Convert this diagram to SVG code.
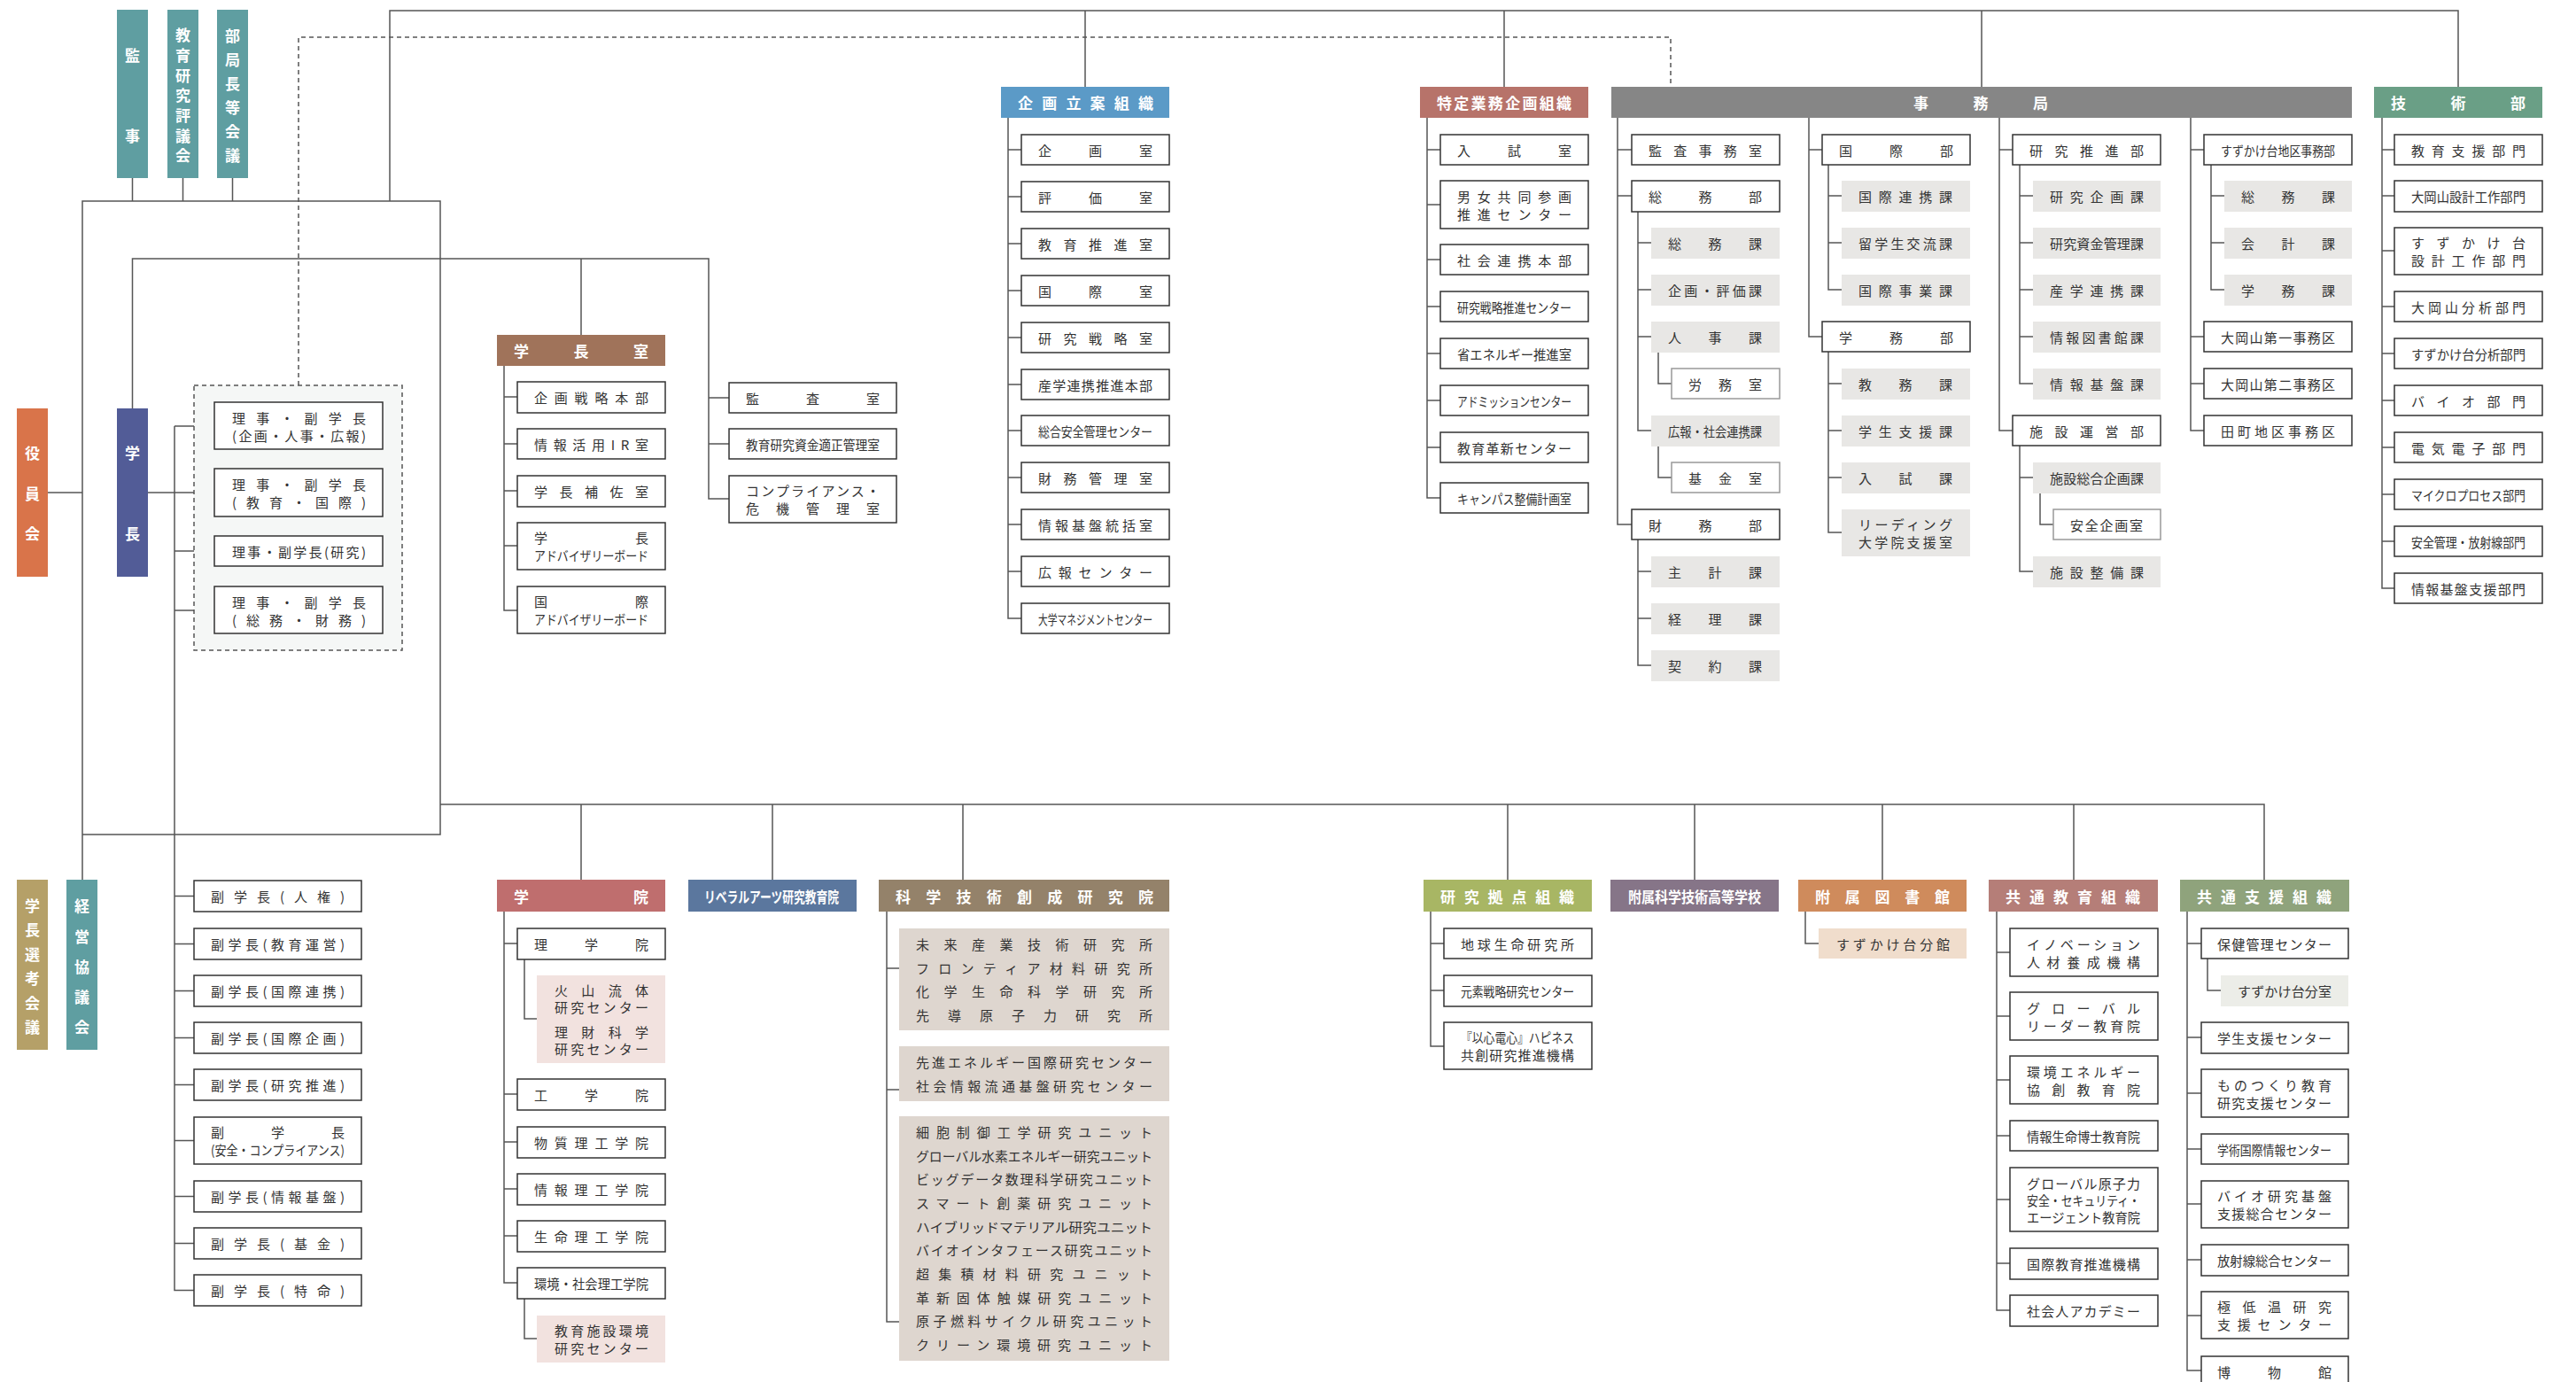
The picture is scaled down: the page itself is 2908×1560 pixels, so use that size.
<svg xmlns="http://www.w3.org/2000/svg" width="2908" height="1560" viewBox="0 0 2908 1560">
<style>
.t{font-family:"Noto Sans CJK JP","Noto Sans CJK SC",sans-serif;font-size:15px;fill:#333;dominant-baseline:central}
.h{font-family:"Noto Sans CJK JP","Noto Sans CJK SC",sans-serif;font-size:17px;font-weight:bold;fill:#fff;dominant-baseline:central}
.v{font-family:"Noto Sans CJK JP","Noto Sans CJK SC",sans-serif;font-size:17px;font-weight:bold;fill:#fff;dominant-baseline:central;text-anchor:middle}
.b{fill:#fff;stroke:#333;stroke-width:1.5}
.l{fill:#fff;stroke:#999;stroke-width:1.5}
.g{fill:#e8e7e5}
.p{fill:#f2e2df}
.k{fill:#ded6cf}
.ln{fill:none;stroke:#555;stroke-width:1.5}
.dl{fill:none;stroke:#555;stroke-width:1.5;stroke-dasharray:5 4}
</style>
<rect width="2908" height="1560" fill="#fff"/>

<g id="connectors">
<path class="ln" d="M440,227 V12 H2775 V98 M1225,12 V98 M1698,12 V98 M2237,12 V98 M149.5,201 V227 M206.5,201 V227 M262.5,201 V227 M93,993 V227 H497 V942 H93 M54,556 H93 M497,908 H2556 V993 M656,908 V993 M872,908 V993 M1087,908 V993 M1702,908 V993 M1913,908 V993 M2125,908 V993 M2341,908 V993"/>
<path class="ln" d="M149.5,461 V292 H800 V563 H823 M656,292 V378 M800,449 H823 M800,501 H823 M167,556 H242 M197,481 V1456.5 H219 M197,481 H242 M197,622 H242 M197,689 H242 M197,1011.5 H219 M197,1065.5 H219 M197,1118.5 H219 M197,1171.5 H219 M197,1224.5 H219 M197,1287.5 H219 M197,1350.5 H219 M197,1403.5 H219"/>
<path class="ln" d="M569,413 V689 H584 M569,448 H584 M569,501 H584 M569,554 H584 M569,616 H584"/>
<path class="ln" d="M1138,133 V698 H1153 M1138,169 H1153 M1138,222 H1153 M1138,275 H1153 M1138,328 H1153 M1138,381 H1153 M1138,434 H1153 M1138,486 H1153 M1138,539 H1153 M1138,592 H1153 M1138,645 H1153"/>
<path class="ln" d="M1611,133 V562 H1626 M1611,169 H1626 M1611,231 H1626 M1611,293 H1626 M1611,346 H1626 M1611,399 H1626 M1611,452 H1626 M1611,505 H1626"/>
<path class="ln" d="M1826,133 V592 H1842 M1826,169 H1842 M1826,221 H1842 M1849,239 V486 H1864 M1849,274 H1864 M1849,327 H1864 M1849,380 H1864 M1872,398 V433 H1887 M1872,504 V539 H1887 M1849,609 V751 H1864 M1849,645 H1864 M1849,698 H1864"/>
<path class="ln" d="M2042,133 V380 H2057 M2042,169 H2057 M2064,186 V327 H2079 M2064,221 H2079 M2064,274 H2079 M2064,397 V601 H2079 M2064,433 H2079 M2064,486 H2079 M2064,539 H2079"/>
<path class="ln" d="M2257,133 V486 H2272 M2257,169 H2272 M2280,186 V433 H2295 M2280,221 H2295 M2280,274 H2295 M2280,327 H2295 M2280,380 H2295 M2280,503 V645 H2295 M2280,539 H2295 M2303,557 V592 H2318"/>
<path class="ln" d="M2473,133 V486 H2488 M2473,169 H2488 M2473,380 H2488 M2473,433 H2488 M2496,186 V327 H2511 M2496,221 H2511 M2496,274 H2511"/>
<path class="ln" d="M2689,133 V664 H2703 M2689,169 H2703 M2689,221 H2703 M2689,283 H2703 M2689,346 H2703 M2689,399 H2703 M2689,452 H2703 M2689,505 H2703 M2689,558 H2703 M2689,611 H2703"/>
<path class="ln" d="M569,1029 V1448 H584 M569,1065 H584 M569,1235 H584 M569,1289 H584 M569,1342 H584 M569,1395 H584 M592,1083 V1150 H606 M592,1466 V1511 H606"/>
<path class="ln" d="M1001,1029 V1492 H1015 M1001,1093 H1015 M1001,1230 H1015"/>
<path class="ln" d="M1615,1029 V1181 H1630 M1615,1065 H1630 M1615,1118 H1630 M2038,1029 V1065 H2053"/>
<path class="ln" d="M2254,1029 V1479 H2269 M2254,1075 H2269 M2254,1147 H2269 M2254,1219 H2269 M2254,1282 H2269 M2254,1354 H2269 M2254,1426 H2269"/>
<path class="ln" d="M2469,1029 V1547 H2485 M2469,1065 H2485 M2469,1171 H2485 M2469,1234 H2485 M2469,1297 H2485 M2469,1359 H2485 M2469,1422 H2485 M2469,1485 H2485 M2492,1082 V1118 H2507"/>
<path class="dl" d="M337,435 V42 H1886 V98"/>
</g>

<g id="kanji"><rect x="132" y="11" width="35" height="190" fill="#5f9ea1"/><text class="v" x="149.5" y="61">監</text><text class="v" x="149.5" y="152">事</text></g>
<g id="hyogikai"><rect x="189" y="11" width="35" height="190" fill="#5f9ea1"/><text class="v" x="206.5" y="38">教</text><text class="v" x="206.5" y="61">育</text><text class="v" x="206.5" y="84">研</text><text class="v" x="206.5" y="106">究</text><text class="v" x="206.5" y="129">評</text><text class="v" x="206.5" y="152">議</text><text class="v" x="206.5" y="174">会</text></g>
<g id="bukyokucho"><rect x="245" y="11" width="35" height="190" fill="#5f9ea1"/><text class="v" x="262.5" y="39">部</text><text class="v" x="262.5" y="66">局</text><text class="v" x="262.5" y="93">長</text><text class="v" x="262.5" y="120">等</text><text class="v" x="262.5" y="147">会</text><text class="v" x="262.5" y="174">議</text></g>
<g id="yakuinkai"><rect x="19" y="461" width="35" height="190" fill="#d9744a"/><text class="v" x="36.5" y="510">役</text><text class="v" x="36.5" y="556">員</text><text class="v" x="36.5" y="601">会</text></g>
<g id="gakucho"><rect x="132" y="461" width="35" height="190" fill="#525c97"/><text class="v" x="149.5" y="510">学</text><text class="v" x="149.5" y="601">長</text></g>
<g id="senko"><rect x="19" y="993" width="35" height="192" fill="#b5a068"/><text class="v" x="36.5" y="1021">学</text><text class="v" x="36.5" y="1048">長</text><text class="v" x="36.5" y="1076">選</text><text class="v" x="36.5" y="1103">考</text><text class="v" x="36.5" y="1131">会</text><text class="v" x="36.5" y="1158">議</text></g>
<g id="keiei"><rect x="75" y="993" width="35" height="192" fill="#5f9ea1"/><text class="v" x="92.5" y="1021">経</text><text class="v" x="92.5" y="1056">営</text><text class="v" x="92.5" y="1090">協</text><text class="v" x="92.5" y="1124">議</text><text class="v" x="92.5" y="1158">会</text></g>

<g id="riji">
<rect x="219" y="435" width="235" height="299" fill="#f5f7f6" stroke="#555" stroke-width="1.5" stroke-dasharray="5 4"/>
<rect class="b" x="242" y="454" width="190" height="53"/><text class="t" x="262" y="471" textLength="151" lengthAdjust="spacing">理事・副学長</text><text class="t" x="262" y="491" textLength="151" lengthAdjust="spacing">(企画・人事・広報)</text>
<rect class="b" x="242" y="529" width="190" height="54"/><text class="t" x="262" y="546" textLength="151" lengthAdjust="spacing">理事・副学長</text><text class="t" x="262" y="566" textLength="151" lengthAdjust="spacing">(教育・国際)</text>
<rect class="b" x="242" y="605" width="190" height="34"/><text class="t" x="262" y="622" textLength="151" lengthAdjust="spacing">理事・副学長(研究)</text>
<rect class="b" x="242" y="662" width="190" height="53"/><text class="t" x="262" y="679" textLength="151" lengthAdjust="spacing">理事・副学長</text><text class="t" x="262" y="699" textLength="151" lengthAdjust="spacing">(総務・財務)</text>
</g>

<g id="fukugakucho">
<rect class="b" x="219" y="994" width="189" height="35"/><text class="t" x="238" y="1011.5" textLength="151" lengthAdjust="spacing">副学長(人権)</text>
<rect class="b" x="219" y="1048" width="189" height="35"/><text class="t" x="238" y="1065.5" textLength="151" lengthAdjust="spacing">副学長(教育運営)</text>
<rect class="b" x="219" y="1101" width="189" height="35"/><text class="t" x="238" y="1118.5" textLength="151" lengthAdjust="spacing">副学長(国際連携)</text>
<rect class="b" x="219" y="1154" width="189" height="35"/><text class="t" x="238" y="1171.5" textLength="151" lengthAdjust="spacing">副学長(国際企画)</text>
<rect class="b" x="219" y="1207" width="189" height="35"/><text class="t" x="238" y="1224.5" textLength="151" lengthAdjust="spacing">副学長(研究推進)</text>
<rect class="b" x="219" y="1261" width="189" height="53"/><text class="t" x="238" y="1277.5" textLength="151" lengthAdjust="spacing">副学長</text><text class="t" x="238" y="1297.5" textLength="151" lengthAdjust="spacingAndGlyphs">(安全・コンプライアンス)</text>
<rect class="b" x="219" y="1333" width="189" height="35"/><text class="t" x="238" y="1350.5" textLength="151" lengthAdjust="spacing">副学長(情報基盤)</text>
<rect class="b" x="219" y="1386" width="189" height="35"/><text class="t" x="238" y="1403.5" textLength="151" lengthAdjust="spacing">副学長(基金)</text>
<rect class="b" x="219" y="1439" width="189" height="35"/><text class="t" x="238" y="1456.5" textLength="151" lengthAdjust="spacing">副学長(特命)</text>
</g>

<g id="kansa">
<rect class="b" x="823" y="432" width="189" height="34"/><text class="t" x="842" y="449" textLength="151" lengthAdjust="spacing">監査室</text>
<rect class="b" x="823" y="484" width="189" height="34"/><text class="t" x="842" y="501" textLength="151" lengthAdjust="spacingAndGlyphs">教育研究資金適正管理室</text>
<rect class="b" x="823" y="537" width="189" height="53"/><text class="t" x="842" y="553.5" textLength="151" lengthAdjust="spacing">コンプライアンス・</text><text class="t" x="842" y="573.5" textLength="151" lengthAdjust="spacing">危機管理室</text>
</g>

<g id="gakuchoshitsu">
<rect x="561" y="378" width="190" height="35" fill="#a0735a"/><text class="h" x="580" y="395.5" textLength="152" lengthAdjust="spacing">学長室</text>
<rect class="b" x="584" y="431" width="167" height="35"/><text class="t" x="603" y="448.5" textLength="129" lengthAdjust="spacing">企画戦略本部</text>
<rect class="b" x="584" y="484" width="167" height="34"/><text class="t" x="603" y="501" textLength="129" lengthAdjust="spacing">情報活用IR室</text>
<rect class="b" x="584" y="537" width="167" height="35"/><text class="t" x="603" y="554.5" textLength="129" lengthAdjust="spacing">学長補佐室</text>
<rect class="b" x="584" y="590" width="167" height="53"/><text class="t" x="603" y="606.5" textLength="129" lengthAdjust="spacing">学長</text><text class="t" x="603" y="626.5" textLength="129" lengthAdjust="spacingAndGlyphs">アドバイザリーボード</text>
<rect class="b" x="584" y="662" width="167" height="53"/><text class="t" x="603" y="678.5" textLength="129" lengthAdjust="spacing">国際</text><text class="t" x="603" y="698.5" textLength="129" lengthAdjust="spacingAndGlyphs">アドバイザリーボード</text>
</g>

<g id="kikaku">
<rect x="1130" y="98" width="190" height="35" fill="#5b9ac7"/><text class="h" x="1149" y="115.5" textLength="153" lengthAdjust="spacing">企画立案組織</text>
<rect class="b" x="1153" y="152" width="167" height="34"/><text class="t" x="1172" y="169" textLength="129" lengthAdjust="spacing">企画室</text>
<rect class="b" x="1153" y="205" width="167" height="34"/><text class="t" x="1172" y="222" textLength="129" lengthAdjust="spacing">評価室</text>
<rect class="b" x="1153" y="258" width="167" height="34"/><text class="t" x="1172" y="275" textLength="129" lengthAdjust="spacing">教育推進室</text>
<rect class="b" x="1153" y="311" width="167" height="34"/><text class="t" x="1172" y="328" textLength="129" lengthAdjust="spacing">国際室</text>
<rect class="b" x="1153" y="364" width="167" height="34"/><text class="t" x="1172" y="381" textLength="129" lengthAdjust="spacing">研究戦略室</text>
<rect class="b" x="1153" y="417" width="167" height="34"/><text class="t" x="1172" y="434" textLength="129" lengthAdjust="spacing">産学連携推進本部</text>
<rect class="b" x="1153" y="469" width="167" height="34"/><text class="t" x="1172" y="486" textLength="129" lengthAdjust="spacingAndGlyphs">総合安全管理センター</text>
<rect class="b" x="1153" y="522" width="167" height="34"/><text class="t" x="1172" y="539" textLength="129" lengthAdjust="spacing">財務管理室</text>
<rect class="b" x="1153" y="575" width="167" height="34"/><text class="t" x="1172" y="592" textLength="129" lengthAdjust="spacing">情報基盤統括室</text>
<rect class="b" x="1153" y="628" width="167" height="34"/><text class="t" x="1172" y="645" textLength="129" lengthAdjust="spacing">広報センター</text>
<rect class="b" x="1153" y="681" width="167" height="34"/><text class="t" x="1172" y="698" textLength="129" lengthAdjust="spacingAndGlyphs">大学マネジメントセンター</text>
</g>

<g id="tokutei">
<rect x="1603" y="98" width="190" height="35" fill="#b7736a"/><text class="h" x="1622" y="115.5" textLength="152" lengthAdjust="spacing">特定業務企画組織</text>
<rect class="b" x="1626" y="152" width="167" height="34"/><text class="t" x="1645" y="169" textLength="129" lengthAdjust="spacing">入試室</text>
<rect class="b" x="1626" y="204" width="167" height="54"/><text class="t" x="1645" y="221" textLength="129" lengthAdjust="spacing">男女共同参画</text><text class="t" x="1645" y="241" textLength="129" lengthAdjust="spacing">推進センター</text>
<rect class="b" x="1626" y="276" width="167" height="34"/><text class="t" x="1645" y="293" textLength="129" lengthAdjust="spacing">社会連携本部</text>
<rect class="b" x="1626" y="329" width="167" height="34"/><text class="t" x="1645" y="346" textLength="129" lengthAdjust="spacingAndGlyphs">研究戦略推進センター</text>
<rect class="b" x="1626" y="382" width="167" height="34"/><text class="t" x="1645" y="399" textLength="129" lengthAdjust="spacingAndGlyphs">省エネルギー推進室</text>
<rect class="b" x="1626" y="435" width="167" height="34"/><text class="t" x="1645" y="452" textLength="129" lengthAdjust="spacingAndGlyphs">アドミッションセンター</text>
<rect class="b" x="1626" y="488" width="167" height="34"/><text class="t" x="1645" y="505" textLength="129" lengthAdjust="spacing">教育革新センター</text>
<rect class="b" x="1626" y="545" width="167" height="34"/><text class="t" x="1645" y="562" textLength="129" lengthAdjust="spacingAndGlyphs">キャンパス整備計画室</text>
</g>

<g id="jimukyoku">
<rect x="1819" y="98" width="836" height="35" fill="#868686"/><text class="h" x="2160" y="115.5" textLength="152" lengthAdjust="spacing">事務局</text>
<rect class="b" x="1842" y="152" width="167" height="34"/><text class="t" x="1861" y="169" textLength="128" lengthAdjust="spacing">監査事務室</text>
<rect class="b" x="1842" y="204" width="167" height="35"/><text class="t" x="1861" y="221.5" textLength="128" lengthAdjust="spacing">総務部</text>
<rect class="g" x="1864" y="257" width="145" height="35"/><text class="t" x="1883" y="274.5" textLength="106" lengthAdjust="spacing">総務課</text>
<rect class="g" x="1864" y="310" width="145" height="35"/><text class="t" x="1883" y="327.5" textLength="106" lengthAdjust="spacing">企画・評価課</text>
<rect class="g" x="1864" y="363" width="145" height="35"/><text class="t" x="1883" y="380.5" textLength="106" lengthAdjust="spacing">人事課</text>
<rect class="l" x="1887" y="416" width="122" height="34"/><text class="t" x="1906" y="433" textLength="83" lengthAdjust="spacing">労務室</text>
<rect class="g" x="1864" y="469" width="145" height="35"/><text class="t" x="1883" y="486.5" textLength="106" lengthAdjust="spacingAndGlyphs">広報・社会連携課</text>
<rect class="l" x="1887" y="522" width="122" height="34"/><text class="t" x="1906" y="539" textLength="83" lengthAdjust="spacing">基金室</text>
<rect class="b" x="1842" y="575" width="167" height="34"/><text class="t" x="1861" y="592" textLength="128" lengthAdjust="spacing">財務部</text>
<rect class="g" x="1864" y="628" width="145" height="35"/><text class="t" x="1883" y="645.5" textLength="106" lengthAdjust="spacing">主計課</text>
<rect class="g" x="1864" y="681" width="145" height="35"/><text class="t" x="1883" y="698.5" textLength="106" lengthAdjust="spacing">経理課</text>
<rect class="g" x="1864" y="734" width="145" height="35"/><text class="t" x="1883" y="751.5" textLength="106" lengthAdjust="spacing">契約課</text>

<rect class="b" x="2057" y="152" width="167" height="34"/><text class="t" x="2076" y="169" textLength="129" lengthAdjust="spacing">国際部</text>
<rect class="g" x="2079" y="204" width="145" height="35"/><text class="t" x="2098" y="221.5" textLength="106" lengthAdjust="spacing">国際連携課</text>
<rect class="g" x="2079" y="257" width="145" height="35"/><text class="t" x="2098" y="274.5" textLength="106" lengthAdjust="spacing">留学生交流課</text>
<rect class="g" x="2079" y="310" width="145" height="35"/><text class="t" x="2098" y="327.5" textLength="106" lengthAdjust="spacing">国際事業課</text>
<rect class="b" x="2057" y="363" width="167" height="34"/><text class="t" x="2076" y="380" textLength="129" lengthAdjust="spacing">学務部</text>
<rect class="g" x="2079" y="416" width="145" height="35"/><text class="t" x="2098" y="433.5" textLength="106" lengthAdjust="spacing">教務課</text>
<rect class="g" x="2079" y="469" width="145" height="35"/><text class="t" x="2098" y="486.5" textLength="106" lengthAdjust="spacing">学生支援課</text>
<rect class="g" x="2079" y="522" width="145" height="35"/><text class="t" x="2098" y="539.5" textLength="106" lengthAdjust="spacing">入試課</text>
<rect class="g" x="2079" y="575" width="145" height="53"/><text class="t" x="2098" y="591.5" textLength="106" lengthAdjust="spacing">リーディング</text><text class="t" x="2098" y="611.5" textLength="106" lengthAdjust="spacing">大学院支援室</text>

<rect class="b" x="2272" y="152" width="167" height="34"/><text class="t" x="2291" y="169" textLength="129" lengthAdjust="spacing">研究推進部</text>
<rect class="g" x="2295" y="204" width="144" height="35"/><text class="t" x="2314" y="221.5" textLength="106" lengthAdjust="spacing">研究企画課</text>
<rect class="g" x="2295" y="257" width="144" height="35"/><text class="t" x="2314" y="274.5" textLength="106" lengthAdjust="spacing">研究資金管理課</text>
<rect class="g" x="2295" y="310" width="144" height="35"/><text class="t" x="2314" y="327.5" textLength="106" lengthAdjust="spacing">産学連携課</text>
<rect class="g" x="2295" y="363" width="144" height="35"/><text class="t" x="2314" y="380.5" textLength="106" lengthAdjust="spacing">情報図書館課</text>
<rect class="g" x="2295" y="416" width="144" height="35"/><text class="t" x="2314" y="433.5" textLength="106" lengthAdjust="spacing">情報基盤課</text>
<rect class="b" x="2272" y="469" width="167" height="34"/><text class="t" x="2291" y="486" textLength="129" lengthAdjust="spacing">施設運営部</text>
<rect class="g" x="2295" y="522" width="144" height="35"/><text class="t" x="2314" y="539.5" textLength="106" lengthAdjust="spacing">施設総合企画課</text>
<rect class="l" x="2318" y="575" width="121" height="34"/><text class="t" x="2337" y="592" textLength="82" lengthAdjust="spacing">安全企画室</text>
<rect class="g" x="2295" y="628" width="144" height="35"/><text class="t" x="2314" y="645.5" textLength="106" lengthAdjust="spacing">施設整備課</text>

<rect class="b" x="2488" y="152" width="167" height="34"/><text class="t" x="2507" y="169" textLength="129" lengthAdjust="spacingAndGlyphs">すずかけ台地区事務部</text>
<rect class="g" x="2511" y="204" width="144" height="35"/><text class="t" x="2530" y="221.5" textLength="106" lengthAdjust="spacing">総務課</text>
<rect class="g" x="2511" y="257" width="144" height="35"/><text class="t" x="2530" y="274.5" textLength="106" lengthAdjust="spacing">会計課</text>
<rect class="g" x="2511" y="310" width="144" height="35"/><text class="t" x="2530" y="327.5" textLength="106" lengthAdjust="spacing">学務課</text>
<rect class="b" x="2488" y="363" width="167" height="34"/><text class="t" x="2507" y="380" textLength="129" lengthAdjust="spacing">大岡山第一事務区</text>
<rect class="b" x="2488" y="416" width="167" height="34"/><text class="t" x="2507" y="433" textLength="129" lengthAdjust="spacing">大岡山第二事務区</text>
<rect class="b" x="2488" y="469" width="167" height="34"/><text class="t" x="2507" y="486" textLength="129" lengthAdjust="spacing">田町地区事務区</text>
</g>

<g id="gijutsubu">
<rect x="2680" y="98" width="190" height="35" fill="#6a9f86"/><text class="h" x="2699" y="115.5" textLength="152" lengthAdjust="spacing">技術部</text>
<rect class="b" x="2703" y="152" width="167" height="34"/><text class="t" x="2722" y="169" textLength="129" lengthAdjust="spacing">教育支援部門</text>
<rect class="b" x="2703" y="204" width="167" height="35"/><text class="t" x="2722" y="221.5" textLength="129" lengthAdjust="spacingAndGlyphs">大岡山設計工作部門</text>
<rect class="b" x="2703" y="257" width="167" height="53"/><text class="t" x="2722" y="273.5" textLength="129" lengthAdjust="spacing">すずかけ台</text><text class="t" x="2722" y="293.5" textLength="129" lengthAdjust="spacing">設計工作部門</text>
<rect class="b" x="2703" y="329" width="167" height="34"/><text class="t" x="2722" y="346" textLength="129" lengthAdjust="spacing">大岡山分析部門</text>
<rect class="b" x="2703" y="382" width="167" height="34"/><text class="t" x="2722" y="399" textLength="129" lengthAdjust="spacingAndGlyphs">すずかけ台分析部門</text>
<rect class="b" x="2703" y="435" width="167" height="34"/><text class="t" x="2722" y="452" textLength="129" lengthAdjust="spacing">バイオ部門</text>
<rect class="b" x="2703" y="488" width="167" height="34"/><text class="t" x="2722" y="505" textLength="129" lengthAdjust="spacing">電気電子部門</text>
<rect class="b" x="2703" y="541" width="167" height="34"/><text class="t" x="2722" y="558" textLength="129" lengthAdjust="spacingAndGlyphs">マイクロプロセス部門</text>
<rect class="b" x="2703" y="594" width="167" height="34"/><text class="t" x="2722" y="611" textLength="129" lengthAdjust="spacingAndGlyphs">安全管理・放射線部門</text>
<rect class="b" x="2703" y="647" width="167" height="34"/><text class="t" x="2722" y="664" textLength="129" lengthAdjust="spacing">情報基盤支援部門</text>
</g>

<g id="gakuin">
<rect x="561" y="993" width="190" height="36" fill="#bf6e6e"/><text class="h" x="580" y="1011" textLength="152" lengthAdjust="spacing">学院</text>
<rect class="b" x="584" y="1048" width="167" height="35"/><text class="t" x="603" y="1065.5" textLength="129" lengthAdjust="spacing">理学院</text>
<rect class="p" x="606" y="1101" width="145" height="99"/><text class="t" x="626" y="1117" textLength="106" lengthAdjust="spacing">火山流体</text><text class="t" x="626" y="1136" textLength="106" lengthAdjust="spacing">研究センター</text><text class="t" x="626" y="1164" textLength="106" lengthAdjust="spacing">理財科学</text><text class="t" x="626" y="1183" textLength="106" lengthAdjust="spacing">研究センター</text>
<rect class="b" x="584" y="1218" width="167" height="35"/><text class="t" x="603" y="1235.5" textLength="129" lengthAdjust="spacing">工学院</text>
<rect class="b" x="584" y="1272" width="167" height="35"/><text class="t" x="603" y="1289.5" textLength="129" lengthAdjust="spacing">物質理工学院</text>
<rect class="b" x="584" y="1325" width="167" height="35"/><text class="t" x="603" y="1342.5" textLength="129" lengthAdjust="spacing">情報理工学院</text>
<rect class="b" x="584" y="1378" width="167" height="35"/><text class="t" x="603" y="1395.5" textLength="129" lengthAdjust="spacing">生命理工学院</text>
<rect class="b" x="584" y="1431" width="167" height="35"/><text class="t" x="603" y="1448.5" textLength="129" lengthAdjust="spacingAndGlyphs">環境・社会理工学院</text>
<rect class="p" x="606" y="1485" width="145" height="53"/><text class="t" x="626" y="1501.5" textLength="106" lengthAdjust="spacing">教育施設環境</text><text class="t" x="626" y="1521.5" textLength="106" lengthAdjust="spacing">研究センター</text>
</g>

<g id="liberal"><rect x="777" y="993" width="190" height="36" fill="#5b779e"/><text class="h" x="795" y="1011" textLength="152" lengthAdjust="spacingAndGlyphs">リベラルアーツ研究教育院</text></g>

<g id="iir">
<rect x="992" y="993" width="328" height="36" fill="#94826a"/><text class="h" x="1011" y="1011" textLength="291" lengthAdjust="spacing">科学技術創成研究院</text>
<rect class="k" x="1015" y="1048" width="305" height="115"/>
<text class="t" x="1034" y="1065" textLength="267" lengthAdjust="spacing">未来産業技術研究所</text>
<text class="t" x="1034" y="1092" textLength="267" lengthAdjust="spacing">フロンティア材料研究所</text>
<text class="t" x="1034" y="1118" textLength="267" lengthAdjust="spacing">化学生命科学研究所</text>
<text class="t" x="1034" y="1145" textLength="267" lengthAdjust="spacing">先導原子力研究所</text>
<rect class="k" x="1015" y="1181" width="305" height="62"/>
<text class="t" x="1034" y="1198" textLength="267" lengthAdjust="spacing">先進エネルギー国際研究センター</text>
<text class="t" x="1034" y="1225" textLength="267" lengthAdjust="spacing">社会情報流通基盤研究センター</text>
<rect class="k" x="1015" y="1260" width="305" height="276"/>
<text class="t" x="1034" y="1277" textLength="267" lengthAdjust="spacing">細胞制御工学研究ユニット</text>
<text class="t" x="1034" y="1304" textLength="267" lengthAdjust="spacingAndGlyphs">グローバル水素エネルギー研究ユニット</text>
<text class="t" x="1034" y="1330" textLength="267" lengthAdjust="spacing">ビッグデータ数理科学研究ユニット</text>
<text class="t" x="1034" y="1357" textLength="267" lengthAdjust="spacing">スマート創薬研究ユニット</text>
<text class="t" x="1034" y="1384" textLength="267" lengthAdjust="spacingAndGlyphs">ハイブリッドマテリアル研究ユニット</text>
<text class="t" x="1034" y="1410" textLength="267" lengthAdjust="spacing">バイオインタフェース研究ユニット</text>
<text class="t" x="1034" y="1437" textLength="267" lengthAdjust="spacing">超集積材料研究ユニット</text>
<text class="t" x="1034" y="1464" textLength="267" lengthAdjust="spacing">革新固体触媒研究ユニット</text>
<text class="t" x="1034" y="1490" textLength="267" lengthAdjust="spacing">原子燃料サイクル研究ユニット</text>
<text class="t" x="1034" y="1517" textLength="267" lengthAdjust="spacing">クリーン環境研究ユニット</text>
</g>

<g id="kyoten">
<rect x="1607" y="993" width="190" height="36" fill="#a8b664"/><text class="h" x="1626" y="1011" textLength="151" lengthAdjust="spacing">研究拠点組織</text>
<rect class="b" x="1630" y="1048" width="167" height="34"/><text class="t" x="1649" y="1065" textLength="128" lengthAdjust="spacing">地球生命研究所</text>
<rect class="b" x="1630" y="1101" width="167" height="35"/><text class="t" x="1649" y="1118.5" textLength="128" lengthAdjust="spacingAndGlyphs">元素戦略研究センター</text>
<rect class="b" x="1630" y="1154" width="167" height="53"/><text class="t" x="1649" y="1170.5" textLength="128" lengthAdjust="spacingAndGlyphs">『以心電心』ハピネス</text><text class="t" x="1649" y="1190.5" textLength="128" lengthAdjust="spacing">共創研究推進機構</text>
</g>

<g id="koko"><rect x="1818" y="993" width="190" height="36" fill="#867588"/><text class="h" x="1838" y="1011" textLength="150" lengthAdjust="spacingAndGlyphs">附属科学技術高等学校</text></g>

<g id="toshokan">
<rect x="2030" y="993" width="190" height="36" fill="#cf8b5c"/><text class="h" x="2049" y="1011" textLength="152" lengthAdjust="spacing">附属図書館</text>
<rect x="2053" y="1048" width="167" height="34" fill="#f0ddcc"/><text class="t" x="2073" y="1065" textLength="128" lengthAdjust="spacing">すずかけ台分館</text>
</g>

<g id="kyotsukyoiku">
<rect x="2245" y="993" width="191" height="36" fill="#b57e78"/><text class="h" x="2264" y="1011" textLength="152" lengthAdjust="spacing">共通教育組織</text>
<rect class="b" x="2269" y="1048" width="167" height="54"/><text class="t" x="2288" y="1065" textLength="128" lengthAdjust="spacing">イノベーション</text><text class="t" x="2288" y="1085" textLength="128" lengthAdjust="spacing">人材養成機構</text>
<rect class="b" x="2269" y="1120" width="167" height="54"/><text class="t" x="2288" y="1137" textLength="128" lengthAdjust="spacing">グローバル</text><text class="t" x="2288" y="1157" textLength="128" lengthAdjust="spacing">リーダー教育院</text>
<rect class="b" x="2269" y="1192" width="167" height="54"/><text class="t" x="2288" y="1209" textLength="128" lengthAdjust="spacing">環境エネルギー</text><text class="t" x="2288" y="1229" textLength="128" lengthAdjust="spacing">協創教育院</text>
<rect class="b" x="2269" y="1265" width="167" height="34"/><text class="t" x="2288" y="1282" textLength="128" lengthAdjust="spacingAndGlyphs">情報生命博士教育院</text>
<rect class="b" x="2269" y="1318" width="167" height="72"/><text class="t" x="2288" y="1335" textLength="128" lengthAdjust="spacing">グローバル原子力</text><text class="t" x="2288" y="1354" textLength="128" lengthAdjust="spacingAndGlyphs">安全・セキュリティ・</text><text class="t" x="2288" y="1373" textLength="128" lengthAdjust="spacingAndGlyphs">エージェント教育院</text>
<rect class="b" x="2269" y="1409" width="167" height="35"/><text class="t" x="2288" y="1426.5" textLength="128" lengthAdjust="spacing">国際教育推進機構</text>
<rect class="b" x="2269" y="1462" width="167" height="35"/><text class="t" x="2288" y="1479.5" textLength="128" lengthAdjust="spacing">社会人アカデミー</text>
</g>

<g id="kyotsushien">
<rect x="2461" y="993" width="191" height="36" fill="#8fa37c"/><text class="h" x="2480" y="1011" textLength="152" lengthAdjust="spacing">共通支援組織</text>
<rect class="b" x="2485" y="1048" width="166" height="34"/><text class="t" x="2503" y="1065" textLength="129" lengthAdjust="spacing">保健管理センター</text>
<rect x="2507" y="1101" width="144" height="35" fill="#ecede8"/><text class="t" x="2526" y="1118.5" textLength="106" lengthAdjust="spacing">すずかけ台分室</text>
<rect class="b" x="2485" y="1154" width="166" height="35"/><text class="t" x="2503" y="1171.5" textLength="129" lengthAdjust="spacing">学生支援センター</text>
<rect class="b" x="2485" y="1207" width="166" height="54"/><text class="t" x="2503" y="1224" textLength="129" lengthAdjust="spacing">ものつくり教育</text><text class="t" x="2503" y="1244" textLength="129" lengthAdjust="spacing">研究支援センター</text>
<rect class="b" x="2485" y="1280" width="166" height="34"/><text class="t" x="2503" y="1297" textLength="129" lengthAdjust="spacingAndGlyphs">学術国際情報センター</text>
<rect class="b" x="2485" y="1333" width="166" height="53"/><text class="t" x="2503" y="1349.5" textLength="129" lengthAdjust="spacing">バイオ研究基盤</text><text class="t" x="2503" y="1369.5" textLength="129" lengthAdjust="spacing">支援総合センター</text>
<rect class="b" x="2485" y="1405" width="166" height="35"/><text class="t" x="2503" y="1422.5" textLength="129" lengthAdjust="spacingAndGlyphs">放射線総合センター</text>
<rect class="b" x="2485" y="1458" width="166" height="53"/><text class="t" x="2503" y="1474.5" textLength="129" lengthAdjust="spacing">極低温研究</text><text class="t" x="2503" y="1494.5" textLength="129" lengthAdjust="spacing">支援センター</text>
<rect class="b" x="2485" y="1531" width="166" height="40"/><text class="t" x="2503" y="1548" textLength="129" lengthAdjust="spacing">博物館</text>
</g>
</svg>
